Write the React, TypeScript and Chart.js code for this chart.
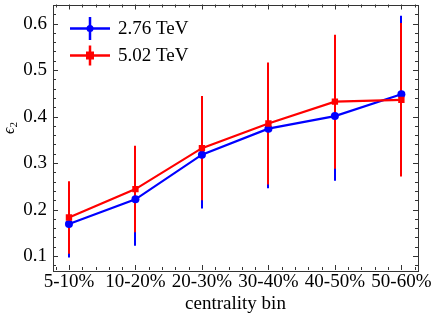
import React, { useEffect, useRef } from "react";
import { Chart, registerables } from "chart.js";

Chart.register(...registerables);

const categories = ["5-10%", "10-20%", "20-30%", "30-40%", "40-50%", "50-60%"];
const blueValues = [0.169, 0.222, 0.318, 0.374, 0.401, 0.448];
const blueErrors = [0.072, 0.1, 0.116, 0.128, 0.139, 0.169];
const redValues = [0.183, 0.244, 0.332, 0.385, 0.432, 0.436];
const redErrors = [0.078, 0.093, 0.112, 0.131, 0.144, 0.165];
const yTicks = [0.1, 0.2, 0.3, 0.4, 0.5, 0.6];
const seriesNames = ["2.76 TeV", "5.02 TeV"];

const BLUE = "#0000ff";
const RED = "#ff0000";
const FONT = "'Liberation Serif', 'Times New Roman', serif";

export default function App() {
  const ref = useRef<HTMLCanvasElement | null>(null);
  useEffect(() => {
    const canvas = ref.current;
    if (!canvas) return;
    const pts = (vals: number[]) => vals.map((v, i) => ({ x: i, y: v }));

    const decor = {
      id: "decor",
      beforeDatasetDraw(chart: any, args: any) {
        if (args.index !== 2) return;
        const ctx = chart.ctx;
        const xs = chart.scales.x;
        const ys = chart.scales.y;
        const series = [
          { v: blueValues, e: blueErrors, c: BLUE },
          { v: redValues, e: redErrors, c: RED },
        ];
        ctx.save();
        for (const s of series) {
          ctx.strokeStyle = s.c;
          ctx.lineWidth = 2;
          s.v.forEach((v, i) => {
            const px = Math.round(xs.getPixelForValue(i));
            ctx.beginPath();
            ctx.moveTo(px, ys.getPixelForValue(v - s.e[i]));
            ctx.lineTo(px, ys.getPixelForValue(v + s.e[i]));
            ctx.stroke();
          });
        }
        ctx.restore();
      },
      afterDraw(chart: any) {
        const ctx = chart.ctx;
        const a = chart.chartArea;
        const xs = chart.scales.x;
        const ys = chart.scales.y;
        ctx.save();
        // frame
        ctx.strokeStyle = "#333";
        ctx.lineWidth = 1;
        ctx.strokeRect(Math.round(a.left) + 0.5, Math.round(a.top) + 0.5, Math.round(a.right - a.left), Math.round(a.bottom - a.top));
        // y ticks
        ctx.beginPath();
        for (let k = 0; k <= 60; k++) {
          const v = Math.round((0.0 + k * 0.02) * 1000) / 1000;
          if (v < ys.min || v > ys.max) continue;
          const major = Math.abs(v * 10 - Math.round(v * 10)) < 1e-6;
          const len = major ? 5 : 3;
          const py = Math.round(ys.getPixelForValue(v)) + 0.5;
          ctx.moveTo(a.left, py);
          ctx.lineTo(a.left + len, py);
          ctx.moveTo(a.right, py);
          ctx.lineTo(a.right - len, py);
        }
        // x ticks
        for (let k = -5; k <= 30; k++) {
          const v = k * 0.2;
          if (v < xs.min || v > xs.max) continue;
          const major = k % 5 === 0;
          const len = major ? 5 : 3;
          const px = Math.round(xs.getPixelForValue(v)) + 0.5;
          ctx.moveTo(px, a.bottom);
          ctx.lineTo(px, a.bottom - len);
          ctx.moveTo(px, a.top);
          ctx.lineTo(px, a.top + len);
        }
        ctx.stroke();

        // axis titles
        ctx.fillStyle = "#000";
        ctx.font = `19px ${FONT}`;
        ctx.textAlign = "center";
        ctx.textBaseline = "alphabetic";
        ctx.fillText("centrality bin", (a.left + a.right) / 2, 309);

        ctx.save();
        ctx.translate(14, 128);
        ctx.rotate(-Math.PI / 2);
        ctx.font = `italic 16px ${FONT}`;
        ctx.textAlign = "left";
        const w1 = ctx.measureText("ϵ").width;
        ctx.font = `italic 11px ${FONT}`;
        const w2 = ctx.measureText("2").width;
        const start = -(w1 + w2) / 2;
        ctx.font = `italic 16px ${FONT}`;
        ctx.fillText("ϵ", start, 0);
        ctx.font = `11px ${FONT}`;
        ctx.fillText("2", start + w1, 3);
        ctx.restore();

        // legend
        const items = [
          { name: seriesNames[0], c: BLUE, y: 28.5, half: 11.5, marker: "circle" },
          { name: seriesNames[1], c: RED, y: 55.5, half: 10, marker: "square" },
        ];
        for (const it of items) {
          ctx.strokeStyle = it.c;
          ctx.fillStyle = it.c;
          ctx.lineWidth = 2.5;
          ctx.beginPath();
          ctx.moveTo(70, it.y);
          ctx.lineTo(110, it.y);
          ctx.moveTo(90, it.y - it.half);
          ctx.lineTo(90, it.y + it.half);
          ctx.stroke();
          ctx.beginPath();
          if (it.marker === "circle") {
            ctx.arc(90, it.y, 3.5, 0, Math.PI * 2);
          } else {
            ctx.rect(86, it.y - 4, 8, 8);
          }
          ctx.fill();
          ctx.fillStyle = "#000";
          ctx.font = `19px ${FONT}`;
          ctx.textAlign = "left";
          ctx.textBaseline = "middle";
          ctx.fillText(it.name, 118, it.y + 0.5);
        }
        ctx.restore();
      },
    };

    const chart = new Chart(canvas, {
      type: "scatter",
      data: {
        datasets: [
          { label: "l1", data: pts(blueValues), showLine: true, borderColor: BLUE, borderWidth: 2.2, pointRadius: 0, order: 6 },
          { label: "l2", data: pts(redValues), showLine: true, borderColor: RED, borderWidth: 2.2, pointRadius: 0, order: 5 },
          { label: "m1", data: pts(blueValues), showLine: false, pointStyle: "circle", pointRadius: 4, backgroundColor: BLUE, borderColor: BLUE, borderWidth: 0, order: 2 },
          { label: "m2", data: pts(redValues), showLine: false, pointStyle: "rect", pointRadius: 4.5, backgroundColor: RED, borderColor: RED, borderWidth: 0, order: 1 },
        ],
      },
      options: {
        animation: false,
        responsive: false,
        maintainAspectRatio: false,
        layout: { padding: { left: 0, top: 4, right: 18, bottom: 0 } },
        plugins: { legend: { display: false }, tooltip: { enabled: false } },
        scales: {
          x: {
            type: "linear",
            min: -0.24,
            max: 5.25,
            grid: { display: false, drawTicks: false },
            border: { display: false },
            afterBuildTicks: (s: any) => {
              s.ticks = categories.map((_, i) => ({ value: i }));
            },
            afterFit: (s: any) => {
              s.height = 47;
              s.paddingLeft = 0;
              s.paddingRight = 0;
            },
            ticks: {
              autoSkip: false,
              maxRotation: 0,
              padding: 1,
              color: "#000",
              font: { family: FONT, size: 19 },
              callback: (v: any) => categories[Math.round(Number(v))] ?? "",
            },
          },
          y: {
            min: 0.07,
            max: 0.641,
            grid: { display: false, drawTicks: false },
            border: { display: false },
            afterBuildTicks: (s: any) => {
              s.ticks = yTicks.map((v) => ({ value: v }));
            },
            afterFit: (s: any) => {
              s.width = 53;
              s.paddingTop = 0;
              s.paddingBottom = 0;
            },
            ticks: {
              padding: 6,
              color: "#000",
              font: { family: FONT, size: 19 },
              callback: (v: any) => Number(v).toFixed(1),
            },
          },
        },
      },
      plugins: [decor],
    });
    return () => chart.destroy();
  }, []);

  return (
    <div style={{ position: "absolute", left: 0, top: 0, width: 436, height: 317, background: "#fff" }}>
      <canvas ref={ref} width={436} height={317} style={{ width: 436, height: 317, display: "block" }} />
    </div>
  );
}
